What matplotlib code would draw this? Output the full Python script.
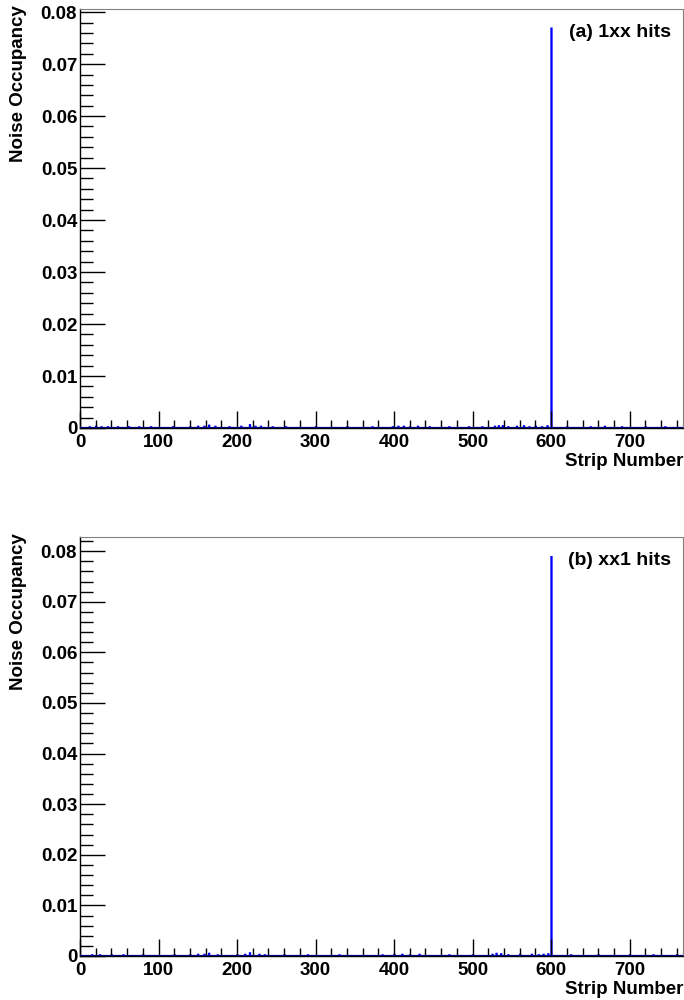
import numpy as np
import matplotlib.pyplot as plt

plt.rcParams['font.family'] = ['Liberation Sans', 'DejaVu Sans']
plt.rcParams['font.weight'] = 'bold'

n_strips = 768
spike_strip = 600

# panel (a): 1xx hits
a_spike = 0.0769
a_noise_strips = [12, 20, 27, 35, 48, 62, 75, 90, 118, 140, 150, 158, 164, 172, 190, 205, 216, 223, 230,
                  245, 262, 300, 340, 372, 398, 405, 412, 420, 430, 445, 470, 495, 512, 528, 533, 538,
                  545, 556, 565, 572, 580, 588, 595, 620, 650, 668, 690, 720, 745]
a_noise_vals = [0.0002, 0.0003, 0.0002, 0.0002, 0.0002, 0.0002, 0.0002, 0.0002, 0.0002, 0.0002, 0.0003,
                0.0003, 0.0005, 0.0003, 0.0002, 0.0003, 0.0006, 0.0003, 0.0003,
                0.0002, 0.0002, 0.0002, 0.0002, 0.0002, 0.0002, 0.0003, 0.0003, 0.0002, 0.0003, 0.0002,
                0.0002, 0.0002, 0.0002, 0.0003, 0.0004, 0.0004,
                0.0002, 0.0003, 0.0004, 0.0002, 0.0003, 0.0002, 0.0004, 0.0002, 0.0002, 0.0003, 0.0002,
                0.0002, 0.0002]

# panel (b): xx1 hits
b_spike = 0.0789
b_noise_strips = [15, 25, 40, 55, 80, 120, 140, 150, 158, 164, 175, 200, 210, 216, 228, 235, 260, 290,
                  330, 385, 400, 410, 420, 432, 470, 500, 525, 530, 536, 545, 560, 575, 584, 590,
                  596, 625, 660, 700, 730, 760]
b_noise_vals = [0.0002, 0.0002, 0.0002, 0.0002, 0.0002, 0.0002, 0.0002, 0.0003, 0.0003, 0.0005, 0.0002,
                0.0002, 0.0003, 0.0006, 0.0003, 0.0002, 0.0002, 0.0002,
                0.0002, 0.0002, 0.0003, 0.0003, 0.0002, 0.0003, 0.0002, 0.0002, 0.0003, 0.0005, 0.0004,
                0.0002, 0.0003, 0.0003, 0.0002, 0.0003,
                0.0004, 0.0002, 0.0002, 0.0002, 0.0002, 0.0002]

panels = [
    ('(a) 1xx hits', a_spike, a_noise_strips, a_noise_vals, 0.0806, [0.044 + 0.528, 0.419]),
    ('(b) xx1 hits', b_spike, b_noise_strips, b_noise_vals, 0.0828, [0.044, 0.419]),
]

fig = plt.figure(figsize=(6.84, 10), dpi=100)
edges = np.arange(n_strips + 1)

for label, spike, strips, vals, ymax, (bottom, height) in panels:
    ax = fig.add_axes([80 / 684, bottom, 603 / 684, height])
    counts = np.zeros(n_strips)
    counts[strips] = vals
    counts[spike_strip] = spike
    ax.stairs(counts, edges, color='blue', lw=1.1)
    ax.axhline(0, color='#000080', lw=1.6, zorder=3)

    ax.set_xlim(0, n_strips)
    ax.set_ylim(0, ymax)
    ax.set_xticks(np.arange(0, 701, 100))
    ax.set_xticks(np.arange(0, 769, 20), minor=True)
    ax.set_yticks(np.arange(0, 0.081, 0.01))
    ax.set_yticks(np.arange(0, ymax, 0.002), minor=True)
    ax.set_yticklabels(['0'] + ['%.2f' % v for v in np.arange(0.01, 0.081, 0.01)])

    ax.tick_params(axis='x', which='major', direction='in', length=12, width=1, labelsize=13.5, pad=4)
    ax.tick_params(axis='x', which='minor', direction='in', length=6, width=1)
    ax.tick_params(axis='y', which='major', direction='in', length=18, width=1, labelsize=13.5, pad=2)
    ax.tick_params(axis='y', which='minor', direction='in', length=9, width=1)

    for side in ['top', 'right']:
        ax.spines[side].set_color('#808080')
        ax.spines[side].set_linewidth(0.8)
    for side in ['left', 'bottom']:
        ax.spines[side].set_color('black')
        ax.spines[side].set_linewidth(1)

    ax.text(0.98, 0.945, label, transform=ax.transAxes, ha='right', va='center',
            fontsize=14, fontweight='bold')
    ax.text(1.0, -0.081, 'Strip Number', transform=ax.transAxes, ha='right', va='center',
            fontsize=13.5, fontweight='bold')
    ax.text(-0.102, 1.01, 'Noise Occupancy', transform=ax.transAxes, ha='center', va='top',
            rotation=90, fontsize=13.5, fontweight='bold')

fig.savefig('out.png', dpi=100)
